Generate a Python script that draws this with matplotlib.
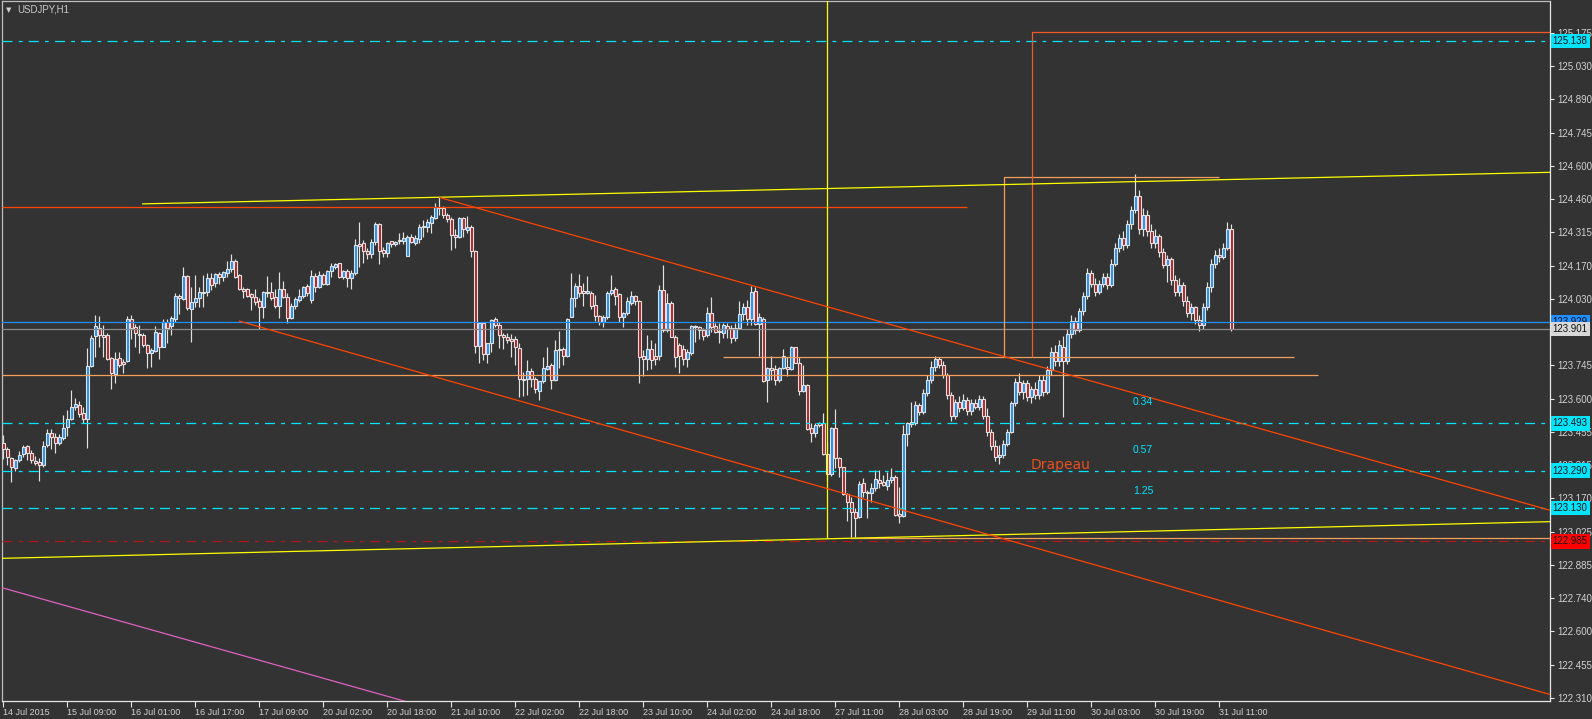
import numpy as np
import matplotlib.pyplot as plt

plt.rcParams['font.family'] = ['Liberation Sans', 'DejaVu Sans']

symbol = 'USDJPY,H1'

# hourly bars, 14 Jul 2015 00:00 -> 31 Jul 2015 14:00
opens = [
    123.410, 123.381, 123.343, 123.300, 123.336, 123.361, 123.396, 123.367, 123.331, 123.327,
    123.313, 123.399, 123.450, 123.436, 123.407, 123.432, 123.476, 123.511, 123.562, 123.571,
    123.536, 123.511, 123.740, 123.869, 123.905, 123.875, 123.872, 123.775, 123.706, 123.775,
    123.757, 123.760, 123.941, 123.907, 123.877, 123.872, 123.831, 123.795, 123.806, 123.881,
    123.823, 123.931, 123.912, 123.944, 124.040, 124.029, 124.128, 123.984, 124.017, 124.032,
    124.060, 124.057, 124.118, 124.096, 124.135, 124.125, 124.142, 124.156, 124.192, 124.132,
    124.072, 124.072, 124.049, 124.039, 124.020, 123.993, 124.059, 124.059, 124.036, 123.999,
    124.072, 124.039, 123.948, 123.999, 124.024, 124.042, 124.085, 124.024, 124.128, 124.079,
    124.131, 124.092, 124.151, 124.168, 124.182, 124.125, 124.149, 124.118, 124.139, 124.265,
    124.268, 124.235, 124.222, 124.274, 124.352, 124.240, 124.225, 124.277, 124.264, 124.282,
    124.278, 124.215, 124.294, 124.268, 124.288, 124.343, 124.340, 124.357, 124.376, 124.426,
    124.419, 124.390, 124.372, 124.304, 124.294, 124.376, 124.326, 124.340, 124.235, 123.828,
    123.924, 123.792, 123.838, 123.941, 123.917, 123.874, 123.864, 123.855, 123.855, 123.816,
    123.686, 123.683, 123.717, 123.683, 123.634, 123.676, 123.728, 123.745, 123.680, 123.814,
    123.814, 123.784, 123.953, 124.032, 124.085, 124.062, 124.053, 124.056, 124.003, 123.956,
    123.931, 123.950, 124.053, 124.071, 124.051, 123.950, 123.967, 124.010, 124.042, 124.020,
    123.784, 123.769, 123.812, 123.784, 123.784, 124.068, 123.896, 124.013, 123.867, 123.831,
    123.812, 123.769, 123.798, 123.913, 123.907, 123.896, 123.873, 123.967, 123.913, 123.893,
    123.884, 123.912, 123.902, 123.862, 123.902, 123.963, 123.993, 123.941, 124.065, 123.921,
    123.941, 123.680, 123.730, 123.726, 123.680, 123.730, 123.734, 123.726, 123.821, 123.755,
    123.634, 123.658, 123.473, 123.453, 123.493, 123.493, 123.360, 123.275, 123.472, 123.343,
    123.304, 123.188, 123.153, 123.110, 123.089, 123.235, 123.198, 123.192, 123.214, 123.249,
    123.241, 123.224, 123.249, 123.261, 123.101, 123.096, 123.447, 123.490, 123.493, 123.572,
    123.544, 123.625, 123.680, 123.735, 123.770, 123.745, 123.700, 123.615, 123.525, 123.585,
    123.560, 123.595, 123.545, 123.580, 123.565, 123.600, 123.525, 123.455, 123.395, 123.350,
    123.355, 123.405, 123.455, 123.580, 123.670, 123.630, 123.665, 123.605, 123.640, 123.615,
    123.680, 123.630, 123.725, 123.800, 123.760, 123.820, 123.760, 123.880, 123.935, 123.895,
    123.975, 124.040, 124.140, 124.095, 124.060, 124.095, 124.125, 124.090, 124.180, 124.250,
    124.290, 124.260, 124.350, 124.410, 124.470, 124.330, 124.390, 124.320, 124.270, 124.300,
    124.230, 124.175, 124.200, 124.110, 124.060, 124.090, 124.020, 123.970, 123.995, 123.940,
    123.915, 123.995, 124.080, 124.180, 124.220, 124.210, 124.250, 124.330,
]
highs = [
    123.443, 123.393, 123.350, 123.338, 123.374, 123.400, 123.400, 123.379, 123.354, 123.346,
    123.417, 123.468, 123.468, 123.450, 123.447, 123.528, 123.551, 123.637, 123.601, 123.589,
    123.565, 123.816, 123.874, 123.960, 123.955, 123.917, 123.884, 123.777, 123.800, 123.800,
    123.769, 123.955, 123.960, 123.920, 123.915, 123.881, 123.835, 123.819, 123.914, 123.888,
    123.941, 123.944, 123.955, 124.056, 124.050, 124.165, 124.132, 124.082, 124.132, 124.082,
    124.132, 124.139, 124.139, 124.139, 124.146, 124.148, 124.194, 124.222, 124.200, 124.136,
    124.082, 124.078, 124.056, 124.070, 124.032, 124.063, 124.128, 124.102, 124.073, 124.145,
    124.108, 124.056, 124.010, 124.039, 124.070, 124.085, 124.092, 124.154, 124.139, 124.149,
    124.142, 124.154, 124.182, 124.185, 124.185, 124.154, 124.156, 124.154, 124.286, 124.359,
    124.283, 124.247, 124.286, 124.362, 124.354, 124.254, 124.275, 124.280, 124.280, 124.314,
    124.318, 124.304, 124.308, 124.304, 124.352, 124.369, 124.372, 124.390, 124.440, 124.466,
    124.429, 124.397, 124.383, 124.329, 124.380, 124.380, 124.386, 124.347, 124.240, 123.931,
    123.928, 123.841, 123.941, 123.950, 123.931, 123.881, 123.881, 123.878, 123.869, 123.841,
    123.716, 123.766, 123.730, 123.691, 123.676, 123.781, 123.820, 123.752, 123.852, 123.891,
    123.824, 123.946, 124.142, 124.096, 124.137, 124.099, 124.128, 124.065, 124.046, 123.960,
    123.960, 124.061, 124.132, 124.082, 124.056, 123.974, 124.039, 124.065, 124.046, 124.025,
    123.810, 123.874, 123.852, 123.838, 124.089, 124.175, 124.053, 124.018, 123.874, 123.838,
    123.831, 123.812, 123.917, 123.917, 123.913, 123.903, 123.993, 124.036, 123.927, 123.927,
    123.927, 123.924, 123.917, 123.924, 124.021, 124.010, 124.024, 124.085, 124.079, 123.970,
    123.953, 123.737, 123.783, 123.744, 123.737, 123.815, 123.780, 123.826, 123.823, 123.780,
    123.743, 123.661, 123.496, 123.493, 123.500, 123.536, 123.414, 123.476, 123.554, 123.350,
    123.307, 123.195, 123.178, 123.127, 123.247, 123.257, 123.206, 123.235, 123.293, 123.293,
    123.271, 123.285, 123.300, 123.271, 123.221, 123.486, 123.500, 123.587, 123.591, 123.582,
    123.640, 123.700, 123.760, 123.785, 123.780, 123.760, 123.710, 123.630, 123.600, 123.610,
    123.620, 123.605, 123.600, 123.600, 123.615, 123.610, 123.560, 123.470, 123.420, 123.400,
    123.420, 123.470, 123.590, 123.690, 123.710, 123.680, 123.680, 123.655, 123.670, 123.700,
    123.700, 123.740, 123.820, 123.830, 123.850, 123.870, 123.900, 123.960, 123.950, 123.990,
    124.060, 124.160, 124.155, 124.120, 124.110, 124.140, 124.140, 124.200, 124.270, 124.310,
    124.320, 124.370, 124.430, 124.567, 124.500, 124.420, 124.410, 124.350, 124.330, 124.310,
    124.250, 124.220, 124.210, 124.130, 124.120, 124.100, 124.040, 124.010, 124.000, 123.960,
    124.010, 124.100, 124.200, 124.240, 124.250, 124.270, 124.360, 124.350,
]
lows = [
    123.338, 123.314, 123.242, 123.290, 123.325, 123.350, 123.336, 123.321, 123.314, 123.247,
    123.307, 123.390, 123.381, 123.367, 123.400, 123.422, 123.439, 123.508, 123.551, 123.522,
    123.493, 123.386, 123.737, 123.780, 123.823, 123.780, 123.766, 123.643, 123.666, 123.737,
    123.711, 123.757, 123.855, 123.823, 123.795, 123.823, 123.730, 123.734, 123.800, 123.769,
    123.820, 123.841, 123.872, 123.928, 123.965, 124.024, 123.981, 123.845, 123.996, 123.996,
    123.996, 124.042, 124.068, 124.082, 124.093, 124.108, 124.122, 124.146, 124.118, 124.068,
    124.032, 124.036, 123.981, 124.003, 123.898, 123.948, 124.039, 124.024, 123.989, 123.948,
    124.032, 123.924, 123.941, 123.984, 124.017, 124.032, 124.042, 124.013, 124.060, 124.075,
    124.089, 124.089, 124.125, 124.159, 124.118, 124.113, 124.082, 124.073, 124.132, 124.168,
    124.185, 124.199, 124.204, 124.261, 124.179, 124.208, 124.208, 124.254, 124.257, 124.265,
    124.265, 124.214, 124.268, 124.260, 124.268, 124.294, 124.319, 124.314, 124.372, 124.390,
    124.376, 124.359, 124.240, 124.247, 124.290, 124.297, 124.314, 124.208, 123.798, 123.752,
    123.766, 123.752, 123.802, 123.910, 123.816, 123.812, 123.838, 123.780, 123.745, 123.608,
    123.611, 123.615, 123.651, 123.623, 123.594, 123.666, 123.723, 123.640, 123.677, 123.731,
    123.745, 123.781, 123.950, 123.996, 124.039, 123.999, 124.051, 123.985, 123.936, 123.917,
    123.907, 123.941, 124.046, 124.003, 123.931, 123.906, 123.960, 124.003, 124.003, 123.666,
    123.698, 123.723, 123.726, 123.745, 123.766, 123.888, 123.888, 123.864, 123.738, 123.709,
    123.745, 123.738, 123.788, 123.845, 123.855, 123.850, 123.864, 123.886, 123.881, 123.838,
    123.860, 123.859, 123.841, 123.849, 123.898, 123.938, 123.917, 123.917, 123.917, 123.783,
    123.673, 123.587, 123.680, 123.658, 123.673, 123.726, 123.697, 123.723, 123.752, 123.615,
    123.630, 123.465, 123.415, 123.436, 123.479, 123.357, 123.245, 123.267, 123.300, 123.264,
    123.185, 123.074, 123.005, 123.005, 123.084, 123.178, 123.084, 123.156, 123.203, 123.214,
    123.224, 123.206, 123.235, 123.094, 123.063, 123.092, 123.396, 123.479, 123.486, 123.530,
    123.535, 123.610, 123.665, 123.720, 123.730, 123.690, 123.600, 123.505, 123.510, 123.540,
    123.550, 123.530, 123.530, 123.555, 123.550, 123.510, 123.440, 123.380, 123.330, 123.318,
    123.345, 123.395, 123.450, 123.570, 123.615, 123.600, 123.590, 123.580, 123.600, 123.600,
    123.610, 123.620, 123.700, 123.740, 123.740, 123.520, 123.750, 123.860, 123.880, 123.885,
    123.960, 124.030, 124.080, 124.040, 124.050, 124.080, 124.070, 124.080, 124.170, 124.230,
    124.240, 124.250, 124.330, 124.400, 124.310, 124.300, 124.300, 124.250, 124.250, 124.210,
    124.160, 124.100, 124.090, 124.040, 124.040, 124.000, 123.950, 123.940, 123.920, 123.890,
    123.900, 123.980, 124.060, 124.160, 124.190, 124.200, 124.240, 123.890,
]
closes = [
    123.381, 123.347, 123.304, 123.336, 123.357, 123.390, 123.364, 123.336, 123.321, 123.313,
    123.396, 123.450, 123.433, 123.407, 123.436, 123.472, 123.513, 123.562, 123.577, 123.533,
    123.511, 123.740, 123.859, 123.912, 123.872, 123.866, 123.769, 123.709, 123.770, 123.743,
    123.750, 123.941, 123.902, 123.881, 123.872, 123.829, 123.795, 123.809, 123.885, 123.823,
    123.928, 123.905, 123.947, 124.042, 124.031, 124.128, 123.989, 124.014, 124.032, 124.057,
    124.056, 124.118, 124.089, 124.135, 124.125, 124.144, 124.156, 124.192, 124.122, 124.070,
    124.065, 124.042, 124.039, 124.017, 123.993, 124.059, 124.053, 124.035, 123.999, 124.072,
    124.039, 123.948, 124.000, 124.029, 124.042, 124.079, 124.053, 124.128, 124.079, 124.131,
    124.093, 124.149, 124.171, 124.179, 124.125, 124.149, 124.118, 124.142, 124.261, 124.258,
    124.237, 124.222, 124.274, 124.352, 124.237, 124.228, 124.268, 124.264, 124.275, 124.277,
    124.290, 124.294, 124.274, 124.290, 124.340, 124.339, 124.359, 124.380, 124.426, 124.419,
    124.390, 124.372, 124.304, 124.294, 124.376, 124.329, 124.340, 124.235, 123.828, 123.924,
    123.792, 123.838, 123.938, 123.917, 123.874, 123.864, 123.852, 123.849, 123.821, 123.683,
    123.680, 123.720, 123.683, 123.640, 123.676, 123.731, 123.741, 123.680, 123.810, 123.807,
    123.784, 123.942, 124.032, 124.085, 124.056, 124.056, 124.062, 123.999, 123.956, 123.931,
    123.953, 124.056, 124.068, 124.042, 123.950, 123.967, 124.018, 124.042, 124.018, 123.781,
    123.769, 123.812, 123.766, 123.769, 124.068, 123.896, 124.013, 123.867, 123.781, 123.784,
    123.769, 123.802, 123.913, 123.906, 123.896, 123.871, 123.967, 123.910, 123.888, 123.887,
    123.916, 123.898, 123.859, 123.902, 123.964, 123.993, 123.941, 124.059, 123.921, 123.950,
    123.677, 123.730, 123.723, 123.680, 123.730, 123.783, 123.726, 123.823, 123.755, 123.634,
    123.658, 123.468, 123.453, 123.486, 123.486, 123.360, 123.275, 123.472, 123.343, 123.304,
    123.189, 123.153, 123.110, 123.084, 123.232, 123.196, 123.192, 123.214, 123.252, 123.235,
    123.228, 123.249, 123.261, 123.099, 123.096, 123.447, 123.493, 123.499, 123.572, 123.544,
    123.625, 123.680, 123.735, 123.770, 123.745, 123.700, 123.615, 123.525, 123.585, 123.560,
    123.595, 123.545, 123.580, 123.565, 123.600, 123.525, 123.455, 123.395, 123.350, 123.355,
    123.405, 123.455, 123.580, 123.670, 123.630, 123.665, 123.605, 123.640, 123.615, 123.680,
    123.630, 123.725, 123.800, 123.760, 123.830, 123.760, 123.880, 123.935, 123.895, 123.975,
    124.040, 124.140, 124.095, 124.060, 124.095, 124.125, 124.090, 124.180, 124.250, 124.290,
    124.260, 124.350, 124.410, 124.470, 124.330, 124.390, 124.320, 124.270, 124.300, 124.230,
    124.175, 124.200, 124.110, 124.060, 124.090, 124.020, 123.970, 123.995, 123.940, 123.915,
    123.995, 124.080, 124.180, 124.220, 124.210, 124.250, 124.330, 123.901,
]

time_labels = ['14 Jul 2015', '15 Jul 09:00', '16 Jul 01:00', '16 Jul 17:00', '17 Jul 09:00',
               '20 Jul 02:00', '20 Jul 18:00', '21 Jul 10:00', '22 Jul 02:00', '22 Jul 18:00',
               '23 Jul 10:00', '24 Jul 02:00', '24 Jul 18:00', '27 Jul 11:00', '28 Jul 03:00',
               '28 Jul 19:00', '29 Jul 11:00', '30 Jul 03:00', '30 Jul 19:00', '31 Jul 11:00']
price_ticks = [125.175, 125.030, 124.890, 124.745, 124.600, 124.460, 124.315, 124.170,
               124.030, 123.885, 123.745, 123.600, 123.455, 123.315, 123.170, 123.025,
               122.885, 122.740, 122.600, 122.455, 122.310]

# fibo-like levels (cyan dash-dot) and their ratios
fib_levels = [125.138, 123.493, 123.290, 123.130]
fib_ratios = ['0.34', '0.57', '1.25']
fib_ratio_prices = [123.585, 123.379, 123.200]
stop_level = 122.985
ask_price = 123.929
bid_price = 123.901

# trend lines: (bar, price) anchor pairs
yellow_top = [(34.7, 124.438), (386.7, 124.574)]
yellow_bottom = [(-0.8, 122.912), (386.7, 123.070)]
red_channel_top = [(109.0, 124.466), (386.7, 123.119)]
red_channel_bottom = [(58.9, 123.934), (386.7, 122.326)]
pink_line = [(-0.8, 122.788), (100.2, 122.298)]

bg = '#333333'
wick_col = '#E2E2E2'
bull_col = '#1E8FFF'
bear_col = '#B22222'
cyan = '#00E5FF'
orange_red = '#FF4500'
salmon = '#F5A05A'
LW = 0.9

o = np.array(opens)
h = np.array(highs)
l = np.array(lows)
c = np.array(closes)
x = np.arange(len(o))

fig = plt.figure(figsize=(15.92, 7.19), dpi=100, facecolor=bg)
ax = fig.add_axes([2 / 1592, 18 / 719, 1548 / 1592, 700 / 719], facecolor=bg)
ax.set_xlim(-0.33, 386.7)
ax.set_ylim(122.298, 125.3115)
x0, x1 = ax.get_xlim()

# candles
ax.vlines(x, l, h, color=wick_col, lw=0.85, zorder=2)
up = c >= o
body = np.where(np.abs(c - o) < 0.0005, 0.0005, c - o)
ax.bar(x, body, bottom=o, width=0.75, color=np.where(up, bull_col, bear_col),
       edgecolor=wick_col, linewidth=0.8, zorder=3)

# horizontal levels
dashdot = (0, (8, 5, 3, 5))
for lv in fib_levels:
    ax.axhline(lv, color=cyan, lw=LW, ls=dashdot, zorder=4)
ax.axhline(stop_level, color='#B01818', lw=LW, ls=dashdot, zorder=4)
ax.axhline(ask_price, color='#1E90FF', lw=LW, zorder=4)
ax.axhline(bid_price, color='#8A8A8A', lw=LW, zorder=4)


def seg(xs, ys, color):
    ax.plot(xs, ys, color=color, lw=LW, zorder=4, solid_capstyle='butt')


seg([x0, 240.9], [124.423, 124.423], orange_red)
seg([x0, 328.7], [123.703, 123.703], salmon)
seg([180, 322.8], [123.777, 123.777], salmon)
seg([250.2, 250.2, 304], [123.777, 124.553, 124.553], salmon)
seg([212, x1], [122.999, 122.999], salmon)
seg([257.1, 257.1, x1], [123.78, 125.180, 125.180], '#F05A28')
seg([206.0, 206.0], [122.998, 125.4], '#FFFF00')


def ray(pts, color):
    (xa, ya), (xb, yb) = pts
    k = (yb - ya) / (xb - xa)
    seg([xa, x1], [ya, ya + k * (x1 - xa)], color)


ray(yellow_top, '#FFFF00')
ray(yellow_bottom, '#FFFF00')
ray(red_channel_top, orange_red)
ray(red_channel_bottom, orange_red)
ray(pink_line, '#E060C0')

for txt, p in zip(fib_ratios, fib_ratio_prices):
    ax.text(282.4, p, txt, color=cyan, fontsize=7.5, va='center', ha='left', zorder=5)
ax.text(256.8, 123.314, 'Drapeau', color='#E8501E', fontsize=10, family='DejaVu Sans',
        va='center', ha='left', zorder=5)

# axes look
for side in ['left', 'top']:
    ax.spines[side].set_color('#BEBEBE')
for side in ['right', 'bottom']:
    ax.spines[side].set_color('#E6E6E6')
for sp in ax.spines.values():
    sp.set_linewidth(0.9)

# 123.885 sits fully under the bid/ask boxes, so its text is left empty
ax.yaxis.tick_right()
ax.set_yticks(price_ticks)
ax.set_yticklabels(['' if p == 123.885 else f'{p:.3f}' for p in price_ticks])
ax.tick_params(axis='y', direction='out', length=3, width=0.8, color='#E6E6E6',
               labelcolor='#D2D2D2', labelsize=7, pad=2)
ax.set_xticks(np.arange(0, 16 * len(time_labels), 16))
ax.set_xticklabels(time_labels)
ax.tick_params(axis='x', direction='out', length=4, width=0.8, color='#E6E6E6',
               labelcolor='#D2D2D2', labelsize=6.5, pad=1)
for lbl in ax.get_xticklabels():
    lbl.set_ha('left')

# price boxes on the right scale
boxes = [(fib_levels[0], cyan), (fib_levels[1], cyan), (fib_levels[2], cyan),
         (fib_levels[3], cyan), (stop_level, '#FF0000'), (ask_price, '#1E90FF'),
         (bid_price, '#D8D8D8')]
for p, col in boxes:
    ax.annotate(f'{p:.3f}', xy=(1.0, p), xycoords=('axes fraction', 'data'),
                xytext=(2, 0), textcoords='offset points', ha='left', va='center',
                fontsize=7, color='#101010', annotation_clip=False, zorder=6,
                bbox=dict(boxstyle='square,pad=0.22', fc=col, ec='none'))

fig.text(9 / 1592, 1 - 10 / 719, '\u25BC', fontsize=5, color='#D0D0D0',
         family='DejaVu Sans', ha='center', va='center')
fig.text(17 / 1592, 1 - 10 / 719, symbol, fontsize=7, color='#C8C8C8', ha='left', va='center')

fig.savefig('out.png', dpi=100, facecolor=bg)
